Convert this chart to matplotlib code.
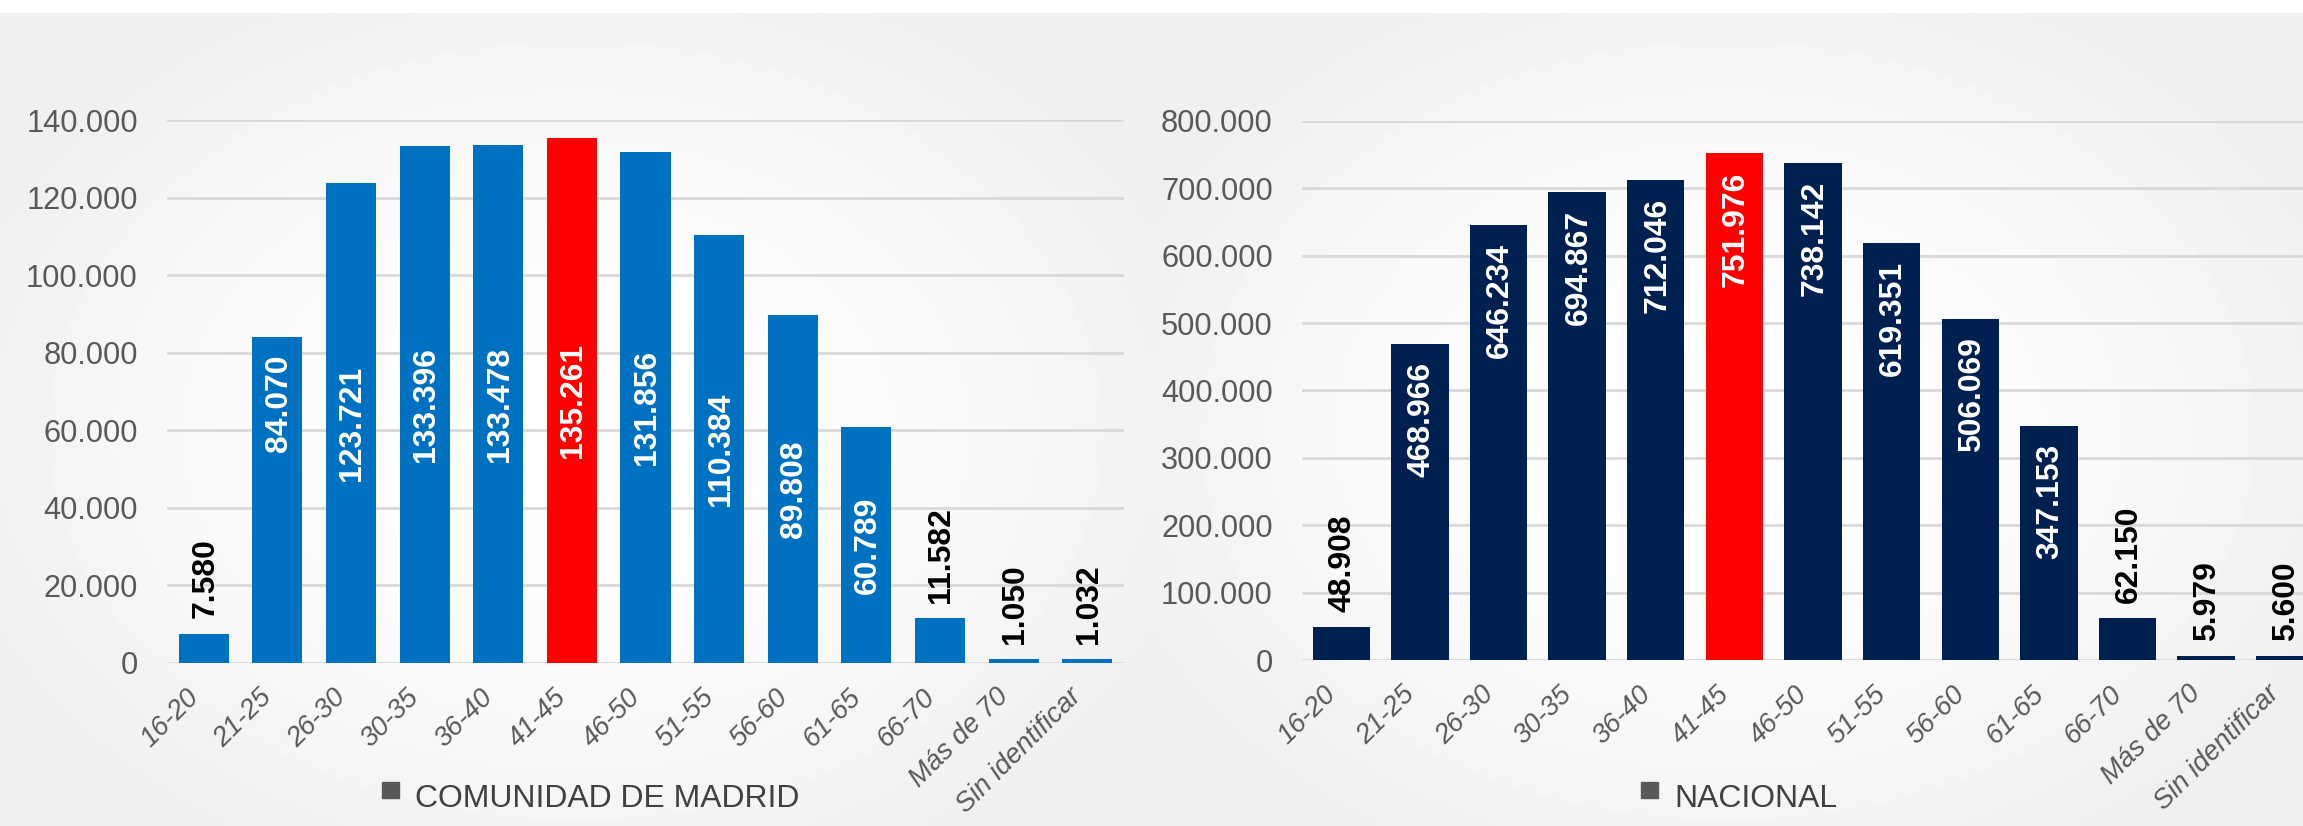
#!/usr/bin/env python

"""
Afiliados por tramo de edad: Comunidad de Madrid frente a Nacional.
"""

import matplotlib.pyplot as plt
import numpy as np
from matplotlib import font_manager
from matplotlib.patches import Rectangle
from matplotlib.ticker import FuncFormatter, MultipleLocator

# --- data ---------------------------------------------------------------
age_groups = ["16-20", "21-25", "26-30", "30-35", "36-40", "41-45", "46-50",
              "51-55", "56-60", "61-65", "66-70", "Más de 70", "Sin identificar"]
madrid   = [7580, 84070, 123721, 133396, 133478, 135261, 131856,
            110384, 89808, 60789, 11582, 1050, 1032]
nacional = [48908, 468966, 646234, 694867, 712046, 751976, 738142,
            619351, 506069, 347153, 62150, 5979, 5600]
madrid_title   = "COMUNIDAD DE MADRID"
nacional_title = "NACIONAL"
highlight = "41-45"

# --- style --------------------------------------------------------------
names = {f.name for f in font_manager.fontManager.ttflist}
narrow = "Liberation Sans Narrow" in names
plt.rc("font", family=["Liberation Sans Narrow" if narrow else "Liberation Sans",
                       "DejaVu Sans"])
# Narrow face is ~0.82 the width of the regular one: size so lengths match
k = 1.0 if narrow else 0.82
size_y, size_x, size_lab, size_leg = 27 * k, 24 * k, 28 * k, 28 * k

W, H, dpi = 2303, 826, 100
grey_text = "#595959"
grid_col  = "#d9d9d9"
red       = "#ff0000"


def thousands(v, pos=None):
    return "{:,}".format(int(v)).replace(",", ".")


fig = plt.figure(figsize=(W / dpi, H / dpi), dpi=dpi)

# background: one soft radial gradient per panel, white strip on top
bg = fig.add_axes([0, 0, 1, 1], zorder=-10)
yy, xx = np.mgrid[0:H, 0:W]
half = W / 2
cx = np.where(xx < half, half / 2, half * 1.5)
r = np.sqrt(((xx - cx) / 650.0) ** 2 + ((yy - 430) / 480.0) ** 2)
img = 1.0 - 0.06 * np.clip(r, 0, 1) ** 1.6
img[:13, :] = 1.0
bg.imshow(img, cmap="gray", vmin=0, vmax=1, aspect="auto",
          interpolation="bilinear")
bg.set_axis_off()


def panel(rect, values, colour, ymax, ystep, outside_below, inside_end,
          bar_width, legend_x, title):
    ax = fig.add_axes(rect)
    ax.patch.set_alpha(0)
    x = np.arange(len(values))
    cols = [red if g == highlight else colour for g in age_groups]
    ax.bar(x, values, width=bar_width, color=cols, zorder=3)

    ax.set_xlim(-0.5, len(values) - 0.5)
    ax.set_ylim(0, ymax)
    ax.yaxis.set_major_locator(MultipleLocator(ystep))
    ax.yaxis.set_major_formatter(FuncFormatter(thousands))
    ax.grid(axis="y", color=grid_col, lw=2, zorder=0)
    ax.set_axisbelow(True)
    for s in ax.spines.values():
        s.set_visible(False)
    ax.tick_params(axis="y", length=0, pad=21, labelsize=size_y,
                   labelcolor=grey_text)
    ax.tick_params(axis="x", length=0, pad=15, labelsize=size_x,
                   labelcolor=grey_text)
    ax.set_xticks(x)
    ax.set_xticklabels(age_groups, rotation=45, ha="right", va="top",
                       style="italic")

    for i, v in enumerate(values):
        txt = thousands(v)
        if v < outside_below:
            ax.annotate(txt, (i, v), xytext=(1, 11), textcoords="offset points",
                        rotation=90, ha="center", va="bottom", color="black",
                        fontsize=size_lab, fontweight="bold")
        elif inside_end(i):
            ax.annotate(txt, (i, v), xytext=(1, -13), textcoords="offset points",
                        rotation=90, ha="center", va="top", color="white",
                        fontsize=size_lab, fontweight="bold")
        else:
            ax.annotate(txt, (i, v / 2), xytext=(1, 0),
                        textcoords="offset points", rotation=90, ha="center",
                        va="center", color="white", fontsize=size_lab,
                        fontweight="bold")

    # legend key
    fig.patches.append(Rectangle((legend_x / W, 1 - 798 / H), 17 / W, 16 / H,
                                 transform=fig.transFigure, color=grey_text))
    fig.text((legend_x + 33) / W, 1 - 799 / H, title, fontsize=size_leg,
             color="#404040", va="center", ha="left")
    return ax


panel([167 / W, 1 - 663 / H, (1124 - 167) / W, (663 - 120) / H],
      madrid, "#0070c0", 140000, 20000, 20000,
      lambda i: i == 1, 0.68, 382, madrid_title)
panel([1302 / W, 1 - 660 / H, (2324 - 1302) / W, (660 - 121) / H],
      nacional, "#002050", 800000, 100000, 100000,
      lambda i: True, 0.73, 1641, nacional_title)

fig.savefig("out.png", dpi=dpi)
